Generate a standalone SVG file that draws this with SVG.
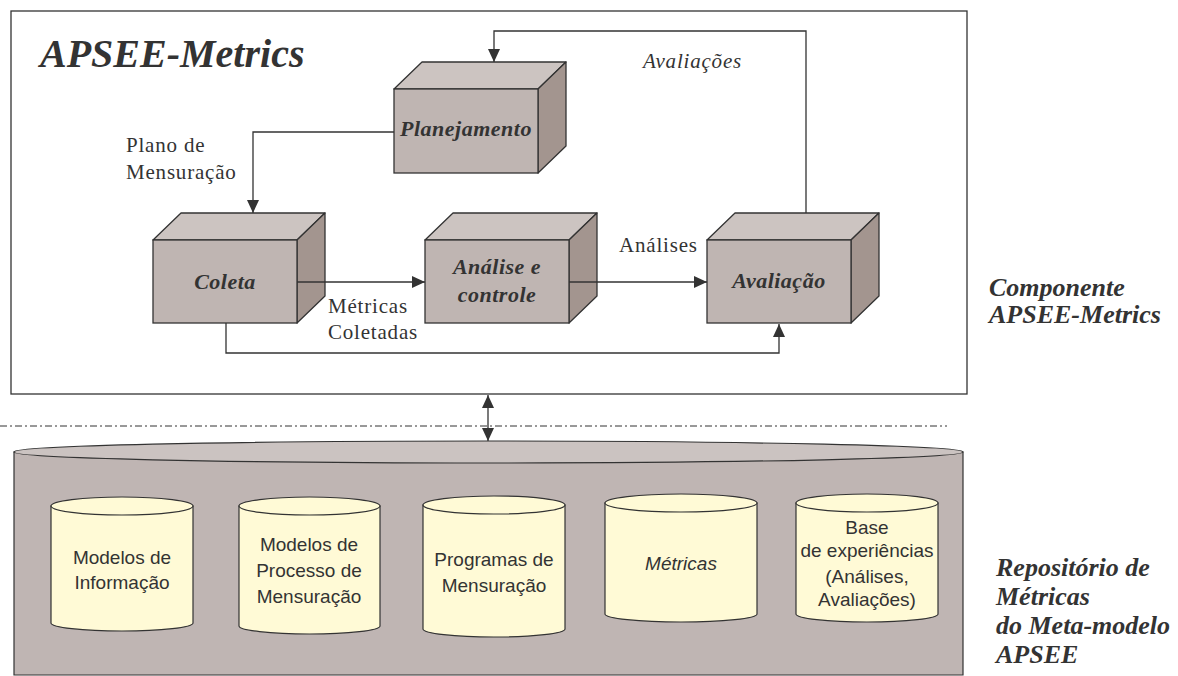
<svg xmlns="http://www.w3.org/2000/svg" width="1178" height="676" viewBox="0 0 1178 676">
<style>
.ln{fill:none;stroke:#333;stroke-width:1.3}
.front{fill:#BFB5B2;stroke:#333;stroke-width:1.3}
.top{fill:#CCC4C1;stroke:#333;stroke-width:1.3;stroke-linejoin:round}
.side{fill:#A3958F;stroke:#333;stroke-width:1.3;stroke-linejoin:round}
.bt{font-family:"Liberation Serif","Times New Roman",serif;font-weight:bold;font-style:italic;font-size:22px;letter-spacing:0.5px;fill:#333;text-anchor:middle}
.cl{font-family:"Liberation Serif","Times New Roman",serif;font-size:21px;letter-spacing:0.8px;fill:#333}
.lb{font-family:"Liberation Serif","Times New Roman",serif;font-weight:bold;font-style:italic;font-size:26px;fill:#333}
.cyl{fill:#FFFAD6;stroke:#333;stroke-width:1.2}
.ct{font-family:"Liberation Sans",Arial,sans-serif;font-size:19px;fill:#333;text-anchor:middle}
</style>
<defs>
<marker id="ah" markerUnits="userSpaceOnUse" markerWidth="14" markerHeight="13" refX="13" refY="6" orient="auto-start-reverse">
<path d="M0,0 L13,6 L0,12 Z" fill="#333"/>
</marker>
</defs>
<rect width="1178" height="676" fill="#fff"/>

<g id="frame">
<rect x="11" y="11" width="956" height="383" fill="#fff" stroke="#333" stroke-width="1.3"/>
<text x="40" y="67" font-family="'Liberation Serif','Times New Roman',serif" font-weight="bold" font-style="italic" font-size="40" fill="#333">APSEE-Metrics</text>
</g>

<line x1="0" y1="426" x2="947" y2="426" stroke="#333" stroke-width="1" stroke-dasharray="7 3 2 3"/>

<g id="repositorio">
<path d="M14,452 V675 H963 V452 Z" fill="#BFB5B3" stroke="#333" stroke-width="1.2"/>
<ellipse cx="488.5" cy="452" rx="474.5" ry="11" fill="#CBC3C1" stroke="#333" stroke-width="1.2"/>
</g>

<g id="cyl-info">
<path class="cyl" d="M51,506 V623 A71,8 0 0 0 193,623 V506 Z"/>
<ellipse class="cyl" cx="122" cy="506" rx="71" ry="9"/>
<text class="ct" x="122" y="564">Modelos de</text>
<text class="ct" x="122" y="589">Informação</text>
</g>
<g id="cyl-processo">
<path class="cyl" d="M239,506 V626 A70.5,8 0 0 0 380,626 V506 Z"/>
<ellipse class="cyl" cx="309.5" cy="506" rx="70.5" ry="9"/>
<text class="ct" x="309" y="551">Modelos de</text>
<text class="ct" x="309" y="577">Processo de</text>
<text class="ct" x="309" y="603">Mensuração</text>
</g>
<g id="cyl-programas">
<path class="cyl" d="M423,505 V629 A71,8 0 0 0 565,629 V505 Z"/>
<ellipse class="cyl" cx="494" cy="505" rx="71" ry="9"/>
<text class="ct" x="494" y="566">Programas de</text>
<text class="ct" x="494" y="592">Mensuração</text>
</g>
<g id="cyl-metricas">
<path class="cyl" d="M605,503 V614 A76,8 0 0 0 757,614 V503 Z"/>
<ellipse class="cyl" cx="681" cy="503" rx="76" ry="9"/>
<text class="ct" x="681" y="570" font-style="italic">Métricas</text>
</g>
<g id="cyl-base">
<path class="cyl" d="M796,503 V614 A71,8 0 0 0 938,614 V503 Z"/>
<ellipse class="cyl" cx="867" cy="503" rx="71" ry="9"/>
<text class="ct" x="867" y="534">Base</text>
<text class="ct" x="867" y="557">de experiências</text>
<text class="ct" x="867" y="583">(Análises,</text>
<text class="ct" x="867" y="606">Avaliações)</text>
</g>

<g id="planejamento">
<polygon class="top" points="394,89 422,62 566,62 538,89"/>
<polygon class="side" points="538,89 566,62 566,146 538,173"/>
<rect class="front" x="394" y="89" width="144" height="84"/>
<text class="bt" x="466" y="136">Planejamento</text>
</g>
<g id="coleta">
<polygon class="top" points="153,240 181,213 325,213 297,240"/>
<polygon class="side" points="297,240 325,213 325,296 297,323"/>
<rect class="front" x="153" y="240" width="144" height="83"/>
<text class="bt" x="225" y="289">Coleta</text>
</g>
<g id="analise">
<polygon class="top" points="425,240 453,213 597,213 569,240"/>
<polygon class="side" points="569,240 597,213 597,296 569,323"/>
<rect class="front" x="425" y="240" width="144" height="83"/>
<text class="bt" x="497" y="274">Análise e</text>
<text class="bt" x="497" y="302">controle</text>
</g>
<g id="avaliacao">
<polygon class="top" points="707,240 735,213 879,213 851,240"/>
<polygon class="side" points="851,240 879,213 879,296 851,323"/>
<rect class="front" x="707" y="240" width="144" height="83"/>
<text class="bt" x="779" y="288">Avaliação</text>
</g>

<g id="connectors">
<path class="ln" d="M394,132 H253 V213" marker-end="url(#ah)"/>
<path class="ln" d="M297,282 H425" marker-end="url(#ah)"/>
<path class="ln" d="M569,282 H707" marker-end="url(#ah)"/>
<path class="ln" d="M226,323 V353 H779 V324" marker-end="url(#ah)"/>
<path class="ln" d="M806,213 V31 H494 V62" marker-end="url(#ah)"/>
<path class="ln" d="M488,395 V441" marker-start="url(#ah)" marker-end="url(#ah)"/>
</g>

<g id="labels">
<text class="cl" x="126" y="152">Plano de</text>
<text class="cl" x="126" y="179">Mensuração</text>
<text class="cl" x="328" y="313">Métricas</text>
<text class="cl" x="328" y="339">Coletadas</text>
<text class="cl" x="619" y="252">Análises</text>
<text class="cl" x="643" y="68" font-style="italic" letter-spacing="1.2">Avaliações</text>
<text class="lb" x="989" y="296">Componente</text>
<text class="lb" x="989" y="323">APSEE-Metrics</text>
<text class="lb" x="996" y="576">Repositório de</text>
<text class="lb" x="996" y="605">Métricas</text>
<text class="lb" x="996" y="634">do Meta-modelo</text>
<text class="lb" x="996" y="663">APSEE</text>
</g>
</svg>
